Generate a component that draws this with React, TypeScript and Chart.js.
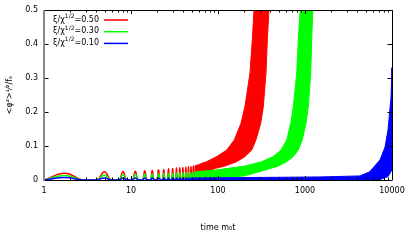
import React, { useEffect, useRef } from 'react';
import { Chart, registerables } from 'chart.js';
Chart.register(...registerables);

// ---- data ----
const xTickValues = [1, 10, 100, 1000, 10000];
const yTickValues = [0, 0.1, 0.2, 0.3, 0.4, 0.5];
const ratioLabels = ['0.50', '0.30', '0.10'];

// early, resolved oscillation humps (time m0t)
const humpStart = [1.0, 4.05, 7.3, 10.35, 13.55, 16.7, 19.8, 22.95, 26.1, 29.2, 32.4, 35.5, 38.65, 41.8, 44.9, 48.05, 51.2, 54.35];
const humpPeak = [1.75, 4.95, 8.1, 11.2, 14.4, 17.55, 20.7, 23.8, 27.0, 30.1, 33.3, 36.4, 39.5, 42.7, 45.8, 48.95, 52.1, 55.2];
const humpEnd = [2.75, 5.9, 8.95, 12.1, 15.3, 18.45, 21.6, 24.7, 27.85, 31.0, 34.15, 37.3, 40.4, 43.55, 46.7, 49.85, 53.0, 56.1];

const redHumpPeak = [0.020, 0.024, 0.025, 0.026, 0.027, 0.028, 0.030, 0.031, 0.033, 0.034, 0.035, 0.036, 0.037, 0.038, 0.039, 0.040, 0.041, 0.042];
const greenHumpPeak = [0.013, 0.015, 0.016, 0.017, 0.018, 0.018, 0.019, 0.019, 0.020, 0.020, 0.021, 0.021, 0.021, 0.022, 0.022, 0.022, 0.023, 0.023];
const blueHumpPeak = [0.007, 0.006, 0.006, 0.006, 0.006, 0.006, 0.006, 0.006, 0.006, 0.006, 0.006, 0.006, 0.006, 0.006, 0.006, 0.006, 0.006, 0.006];

// later, unresolved oscillation bands: upper and lower envelopes
const redUpperT = [54, 74, 97, 126, 154, 184, 204, 233, 248, 259, 275];
const redUpperY = [0.041, 0.054, 0.069, 0.088, 0.118, 0.167, 0.216, 0.314, 0.412, 0.5, 0.62];
const redLowerT = [54, 75, 92, 120, 164, 204, 244, 273, 310, 332, 356, 369, 385, 400];
const redLowerY = [0, 0.02, 0.034, 0.041, 0.054, 0.069, 0.088, 0.118, 0.167, 0.216, 0.314, 0.412, 0.5, 0.6];

const greenUpperT = [54, 92, 204, 318, 432, 530, 617, 685, 734, 803, 837, 880, 930];
const greenUpperY = [0.024, 0.029, 0.041, 0.054, 0.069, 0.088, 0.118, 0.167, 0.216, 0.314, 0.412, 0.5, 0.62];
const greenLowerT = [54, 200, 347, 493, 617, 734, 837, 931, 1026, 1092, 1163, 1194, 1230, 1270];
const greenLowerY = [0, 0.012, 0.029, 0.041, 0.054, 0.069, 0.088, 0.118, 0.167, 0.216, 0.314, 0.412, 0.5, 0.6];

const blueUpperT = [54, 1486, 4285, 5543, 7278, 8318, 9000, 9750, 10000];
const blueUpperY = [0.006, 0.009, 0.012, 0.024, 0.059, 0.097, 0.147, 0.244, 0.33];
const blueLowerT = [54, 7000, 9000, 10000];
const blueLowerY = [0, 0, 0.01, 0.03];

const COLORS = ['#ff0000', '#00ff00', '#0000ff'];
const FONT_FAMILY = '"DejaVu Sans", sans-serif';

function humpPoints(peaks: number[]) {
  const pts: { x: number; y: number }[] = [];
  for (let i = 0; i < humpStart.length; i++) {
    pts.push({ x: humpStart[i], y: 0 }, { x: humpPeak[i], y: peaks[i] }, { x: humpEnd[i], y: 0 });
  }
  return pts;
}

function bandPoints(ut: number[], uy: number[], lt: number[], ly: number[]) {
  const pts: { x: number; y: number }[] = [];
  for (let i = 0; i < ut.length; i++) pts.push({ x: ut[i], y: uy[i] });
  for (let i = lt.length - 1; i >= 0; i--) pts.push({ x: lt[i], y: ly[i] });
  return pts;
}

const framePlugin = {
  id: 'gnuFrame',
  afterDraw(chart: any) {
    const { ctx, chartArea: a, scales } = chart;
    const x = scales.x;
    const y = scales.y;
    ctx.save();
    ctx.strokeStyle = '#000';
    ctx.lineWidth = 1;
    ctx.beginPath();
    for (let d = 1; d <= 10000; d *= 10) {
      for (let k = 1; k <= 9; k++) {
        const v = k * d;
        if (v > 10000) break;
        const px = Math.round(x.getPixelForValue(v)) + 0.5;
        const len = k === 1 ? 4 : 2.5;
        ctx.moveTo(px, a.bottom);
        ctx.lineTo(px, a.bottom - len);
        ctx.moveTo(px, a.top);
        ctx.lineTo(px, a.top + len);
      }
    }
    for (const v of yTickValues) {
      const py = Math.round(y.getPixelForValue(v)) + 0.5;
      ctx.moveTo(a.left, py);
      ctx.lineTo(a.left + 4.5, py);
      ctx.moveTo(a.right, py);
      ctx.lineTo(a.right - 4.5, py);
    }
    ctx.moveTo(a.left, Math.round(a.top) + 0.5);
    ctx.lineTo(a.right + 0.5, Math.round(a.top) + 0.5);
    ctx.moveTo(Math.round(a.right) + 0.5, a.top);
    ctx.lineTo(Math.round(a.right) + 0.5, a.bottom);
    ctx.moveTo(a.left, Math.round(a.bottom) + 0.5);
    ctx.lineTo(a.right + 0.5, Math.round(a.bottom) + 0.5);
    ctx.stroke();
    ctx.beginPath();
    ctx.strokeStyle = '#888888';
    ctx.lineWidth = 2;
    ctx.moveTo(a.left, a.top);
    ctx.lineTo(a.left, a.bottom + 1);
    ctx.stroke();

    // legend (gnuplot style: text right-aligned, sample line to the right)
    ctx.textBaseline = 'middle';
    ctx.fillStyle = '#000';
    const textRight = a.left + 55;
    for (let i = 0; i < ratioLabels.length; i++) {
      const cy = a.top + 9.5 + i * 11.7;
      const main = 'ξ/χ';
      const sup = '1/2';
      const tail = '=' + ratioLabels[i];
      ctx.font = '8px ' + FONT_FAMILY;
      const w1 = ctx.measureText(main).width;
      const w3 = ctx.measureText(tail).width;
      ctx.font = '6px ' + FONT_FAMILY;
      const w2 = ctx.measureText(sup).width;
      let cx = textRight - (w1 + w2 + w3);
      ctx.textAlign = 'left';
      ctx.font = '8px ' + FONT_FAMILY;
      ctx.fillText(main, cx, cy);
      cx += w1;
      ctx.font = '6px ' + FONT_FAMILY;
      ctx.fillText(sup, cx, cy - 3);
      cx += w2;
      ctx.font = '8px ' + FONT_FAMILY;
      ctx.fillText(tail, cx, cy);
      ctx.beginPath();
      ctx.strokeStyle = COLORS[i];
      ctx.lineWidth = 1.5;
      ctx.moveTo(a.left + 60, cy + 0.5);
      ctx.lineTo(a.left + 84, cy + 0.5);
      ctx.stroke();
    }
    ctx.restore();
  },
};

export default function App() {
  const canvasRef = useRef<HTMLCanvasElement | null>(null);

  useEffect(() => {
    if (!canvasRef.current) return;
    const humpPeaks = [redHumpPeak, greenHumpPeak, blueHumpPeak];
    const bands = [
      bandPoints(redUpperT, redUpperY, redLowerT, redLowerY),
      bandPoints(greenUpperT, greenUpperY, greenLowerT, greenLowerY),
      bandPoints(blueUpperT, blueUpperY, blueLowerT, blueLowerY),
    ];
    const datasets: any[] = [];
    for (let i = 0; i < 3; i++) {
      datasets.push({
        label: 'ξ/χ¹⁄²=' + ratioLabels[i],
        data: humpPoints(humpPeaks[i]),
        borderColor: COLORS[i],
        backgroundColor: COLORS[i],
        borderWidth: 1.5,
        pointRadius: 0,
        tension: 0.45,
        fill: false,
        order: 3 - i,
      });
      datasets.push({
        label: 'band ' + ratioLabels[i],
        data: bands[i],
        borderColor: COLORS[i],
        backgroundColor: COLORS[i],
        borderWidth: 1,
        pointRadius: 0,
        tension: 0,
        fill: 'shape',
        clip: 0,
        order: 3 - i,
      });
    }
    const font = { family: FONT_FAMILY, size: 8 };
    const chart = new Chart(canvasRef.current, {
      type: 'line',
      data: { datasets },
      plugins: [framePlugin],
      options: {
        animation: false,
        responsive: false,
        layout: { padding: { top: 10, right: 15, left: 0, bottom: 0 } },
        plugins: { legend: { display: false }, tooltip: { enabled: false } },
        scales: {
          x: {
            type: 'logarithmic',
            min: 1,
            max: 10000,
            afterBuildTicks: (s: any) => {
              s.ticks = xTickValues.map((v) => ({ value: v }));
            },
            afterFit: (s: any) => {
              s.height = 64;
              s.paddingLeft = 0;
              s.paddingRight = 0;
            },
            ticks: {
              callback: (v: any) => String(v),
              font,
              color: '#000',
              padding: 6,
              maxRotation: 0,
              autoSkip: false,
            },
            grid: { display: false, drawTicks: false },
            border: { display: false },
            title: {
              display: true,
              text: 'time m₀t',
              font,
              color: '#000',
              padding: { top: 0, bottom: 11 },
            },
          },
          y: {
            type: 'linear',
            min: 0,
            max: 0.5,
            afterBuildTicks: (s: any) => {
              s.ticks = yTickValues.map((v) => ({ value: v }));
            },
            afterFit: (s: any) => {
              s.width = 44;
              s.paddingTop = 0;
              s.paddingBottom = 0;
            },
            ticks: {
              callback: (v: any) => (v === 0 ? '0' : Number(v).toFixed(1)),
              font,
              color: '#000',
              padding: 6,
            },
            grid: { display: false, drawTicks: false },
            border: { display: false },
            title: {
              display: true,
              text: '<φ²>¹⁄²/fₐ',
              font,
              color: '#000',
              padding: { top: 5, bottom: 0 },
            },
          },
        },
      } as any,
    });
    return () => chart.destroy();
  }, []);

  return (
    <div style={{ position: 'absolute', left: 0, top: 0, width: 407, height: 244, background: '#fff' }}>
      <canvas ref={canvasRef} width={407} height={244} style={{ display: 'block', width: 407, height: 244 }} />
    </div>
  );
}
